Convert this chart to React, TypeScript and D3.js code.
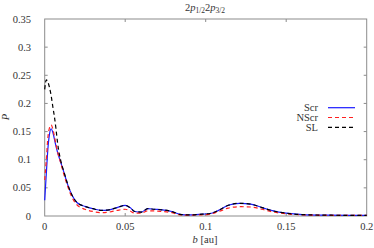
import { useEffect, useRef } from 'react';
import * as d3 from 'd3';

const bVals = [0, 0.001, 0.002, 0.003, 0.004, 0.005, 0.006, 0.007, 0.008, 0.01, 0.012, 0.014, 0.017, 0.02, 0.025, 0.03, 0.035, 0.04, 0.045, 0.05, 0.053, 0.056, 0.06, 0.064, 0.068, 0.073, 0.079, 0.084, 0.09, 0.096, 0.102, 0.108, 0.114, 0.121, 0.128, 0.135, 0.142, 0.15, 0.16, 0.175, 0.2];

const scrVals = [0.028, 0.075, 0.12, 0.146, 0.155, 0.149, 0.137, 0.124, 0.113, 0.095, 0.077, 0.058, 0.037, 0.024, 0.017, 0.013, 0.01, 0.011, 0.015, 0.019, 0.015, 0.008, 0.007, 0.013, 0.012, 0.011, 0.008, 0.003, 0.002, 0.003, 0.004, 0.01, 0.019, 0.0225, 0.021, 0.015, 0.009, 0.005, 0.0025, 0.0015, 0.001];

const nscrVals = [0.064, 0.1, 0.14, 0.157, 0.162, 0.155, 0.142, 0.127, 0.114, 0.094, 0.073, 0.055, 0.033, 0.02, 0.012, 0.008, 0.006, 0.007, 0.01, 0.012, 0.009, 0.005, 0.005, 0.009, 0.009, 0.008, 0.006, 0.002, 0.0015, 0.002, 0.003, 0.008, 0.014, 0.0165, 0.016, 0.012, 0.007, 0.004, 0.002, 0.0012, 0.001];

const slVals = [0.225, 0.242, 0.238, 0.228, 0.214, 0.195, 0.177, 0.155, 0.13, 0.098, 0.078, 0.059, 0.037, 0.024, 0.017, 0.013, 0.01, 0.011, 0.015, 0.019, 0.015, 0.008, 0.007, 0.013, 0.012, 0.011, 0.008, 0.003, 0.002, 0.003, 0.004, 0.01, 0.019, 0.0225, 0.021, 0.015, 0.009, 0.005, 0.0025, 0.0015, 0.001];

const xTicks = [0, 0.05, 0.1, 0.15, 0.2];
const yTicks = [0, 0.05, 0.1, 0.15, 0.2, 0.25, 0.3, 0.35];

const series = [
  { name: 'Scr', values: scrVals, color: '#1a1aff', dash: null },
  { name: 'NScr', values: nscrVals, color: '#ff2020', dash: '4,3' },
  { name: 'SL', values: slVals, color: '#000000', dash: '4,3' },
];

const font = 'Liberation Serif';

export default function App() {
  const svgRef = useRef(null);

  useEffect(() => {
    document.body.style.margin = '0';
    const svg = d3.select(svgRef.current);
    svg.selectAll('*').remove();

    const x = d3.scaleLinear().domain([0, 0.2]).range([44.7, 366.7]);
    const y = d3.scaleLinear().domain([0, 0.35]).range([216, 19]);
    const [x0, x1] = x.range();
    const [y0, y1] = y.range();
    const fmt = d3.format('~g');

    // frame
    svg.append('rect')
      .attr('x', x0).attr('y', y1)
      .attr('width', x1 - x0).attr('height', y0 - y1)
      .attr('fill', 'none').attr('stroke', '#8c8c8c').attr('stroke-width', 1);

    // inward ticks on all four sides
    const tk = 3;
    xTicks.forEach(t => {
      if (t === 0 || t === 0.2) return;
      svg.append('line').attr('x1', x(t)).attr('x2', x(t)).attr('y1', y0).attr('y2', y0 - tk)
        .attr('stroke', '#8c8c8c');
      svg.append('line').attr('x1', x(t)).attr('x2', x(t)).attr('y1', y1).attr('y2', y1 + tk)
        .attr('stroke', '#8c8c8c');
    });
    yTicks.forEach(t => {
      if (t === 0 || t === 0.35) return;
      svg.append('line').attr('x1', x0).attr('x2', x0 + tk).attr('y1', y(t)).attr('y2', y(t))
        .attr('stroke', '#8c8c8c');
      svg.append('line').attr('x1', x1).attr('x2', x1 - tk).attr('y1', y(t)).attr('y2', y(t))
        .attr('stroke', '#8c8c8c');
    });

    const txt = (sel: any) => sel.style('font-family', font).style('font-size', '10.5px').attr('fill', '#333');

    // tick labels
    svg.append('g').selectAll('text').data(xTicks).enter().append('text')
      .attr('x', d => x(d)).attr('y', 230)
      .attr('text-anchor', 'middle')
      .call(txt)
      .text(d => fmt(d));

    svg.append('g').selectAll('text').data(yTicks).enter().append('text')
      .attr('x', 31).attr('y', d => y(d) + 3.5)
      .attr('text-anchor', 'end')
      .call(txt)
      .text(d => fmt(d));

    // axis labels
    const xl = svg.append('text')
      .attr('x', 205).attr('y', 243)
      .attr('text-anchor', 'middle')
      .call(txt);
    xl.append('tspan').style('font-style', 'italic').text('b');
    xl.append('tspan').text(' [au]');

    svg.append('text')
      .attr('transform', 'translate(9,117) rotate(-90)')
      .attr('text-anchor', 'middle')
      .call(txt)
      .style('font-style', 'italic')
      .text('P');

    // title
    const title = svg.append('text')
      .attr('x', 205).attr('y', 10.5)
      .attr('text-anchor', 'middle')
      .call(txt);
    title.append('tspan').text('2');
    title.append('tspan').style('font-style', 'italic').text('p');
    title.append('tspan').style('font-size', '7.5px').attr('dy', 2).text('1/2');
    title.append('tspan').attr('dy', -2).text('2');
    title.append('tspan').style('font-style', 'italic').text('p');
    title.append('tspan').style('font-size', '7.5px').attr('dy', 2).text('3/2');

    // curves
    const line = d3.line<number>()
      .x((_, i) => x(bVals[i]))
      .y(d => y(d))
      .curve(d3.curveMonotoneX);

    series.forEach(s => {
      svg.append('path')
        .datum(s.values)
        .attr('d', line)
        .attr('fill', 'none')
        .attr('stroke', s.color)
        .attr('stroke-width', 1.2)
        .attr('stroke-dasharray', s.dash);
    });

    // legend
    series.forEach((s, i) => {
      const ly = 107.7 + i * 9.8;
      svg.append('text')
        .attr('x', 318).attr('y', ly + 3.5)
        .attr('text-anchor', 'end')
        .call(txt)
        .text(s.name);
      svg.append('line')
        .attr('x1', 328).attr('x2', 355).attr('y1', ly).attr('y2', ly)
        .attr('stroke', s.color).attr('stroke-width', 1.2)
        .attr('stroke-dasharray', s.dash);
    });
  }, []);

  return <svg ref={svgRef} width={374} height={248} style={{ display: 'block' }}></svg>;
}
